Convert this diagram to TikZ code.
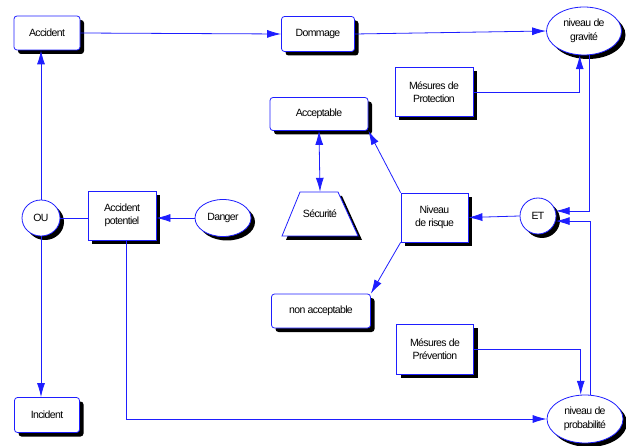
\documentclass[tikz,border=0pt]{standalone}
\usepackage{fontspec}
\setmainfont[LetterSpace=-6]{Liberation Sans}
\usetikzlibrary{arrows.meta,shapes.geometric,shadows}
\definecolor{lienbleu}{RGB}{30,30,255}
\tikzset{
  boite/.style={draw=lienbleu, fill=white, line width=0.8pt, align=center, inner sep=0pt,
    drop shadow={shadow xshift=4pt, shadow yshift=-4pt, fill=black, opacity=1}},
  arrondi/.style={boite, rounded corners=3pt},
  lien/.style={draw=lienbleu, line width=0.8pt},
  pointe/.tip={Latex[length=14pt,width=8pt]},
  fleche/.style={lien, -pointe}
}
\begin{document}
\begin{tikzpicture}[x=1pt, y=-1pt, font=\fontsize{10.5}{13.5}\selectfont]
        \useasboundingbox (0,0) rectangle (626,446);

        % boites
        \node[arrondi, minimum width=66pt, minimum height=34pt] (accident) at (47,33) {Accident};
        \node[arrondi, minimum width=73pt, minimum height=35pt] (dommage) at (318,34) {Dommage};
        \node[boite, ellipse, minimum width=75pt, minimum height=48pt] (gravite) at (584,31) {niveau de\\gravité};
        \node[boite, minimum width=78pt, minimum height=49pt] (protection) at (434,92) {Mésures de\\Protection};
        \node[arrondi, minimum width=98pt, minimum height=33pt] (acceptable) at (319,114) {Acceptable};
        % trapeze Securite
        \fill[black] (286,240) -- (362,240) -- (342,196) -- (304,196) -- cycle;
        \draw[lien, fill=white] (282,236) -- (358,236) -- (338,192) -- (300,192) -- cycle;
        \node[minimum width=76pt, minimum height=44pt, inner sep=0pt] (securite) at (320,214) {Sécurité};
        \node[boite, minimum width=67pt, minimum height=49pt] (risque) at (434.5,217.5) {Niveau\\de risque};
        \node[boite, circle, minimum size=36pt] (et) at (538,216) {ET};
        \node[arrondi, minimum width=99pt, minimum height=34pt] (nonacc) at (321,311) {non acceptable};
        \node[boite, minimum width=77pt, minimum height=50pt] (prevention) at (435,349) {Mésures de\\Prévention};
        \node[boite, ellipse, minimum width=76pt, minimum height=48pt] (probabilite) at (585,419) {niveau de\\probabilité};
        \node[arrondi, minimum width=65pt, minimum height=35pt] (incident) at (47,415) {Incident};
        \node[boite, ellipse, minimum width=38pt, minimum height=36pt] (ou) at (41,218) {OU};
        \node[boite, minimum width=68pt, minimum height=49pt] (potentiel) at (122,215.5) {Accident\\potentiel};
        \node[boite, ellipse, minimum width=56pt, minimum height=37pt] (danger) at (223,218) {Danger};

        % liens
        \draw[fleche] (accident.east) -- (dommage.west);
        \draw[fleche] (dommage.east) -- (gravite.west);
        \draw[fleche] (protection.east) -| (gravite.-100);
        \draw[fleche] (gravite.-77) |- (et.16);
        \draw[fleche] (probabilite.77) |- (et.-16);
        \draw[fleche] (et.west) -- (risque.east);
        \draw[fleche] (risque.north west) -- (acceptable.south east);
        \draw[fleche] (risque.south west) -- (nonacc.north east);
        \draw[lien, pointe-pointe] (acceptable.south) -- (securite.north);
        \draw[fleche] (prevention.east) -| (probabilite.100);
        \draw[fleche] (potentiel.-80) |- (probabilite.west);
        \draw[fleche] (danger.west) -- (danger.west -| potentiel.east);
        \draw[lien] (ou.east) -- (ou.east -| potentiel.west);
        \draw[fleche] (ou.north) -- (ou.north |- accident.south);
        \draw[fleche] (ou.south) -- (ou.south |- incident.north);
    \end{tikzpicture}
\end{document}
